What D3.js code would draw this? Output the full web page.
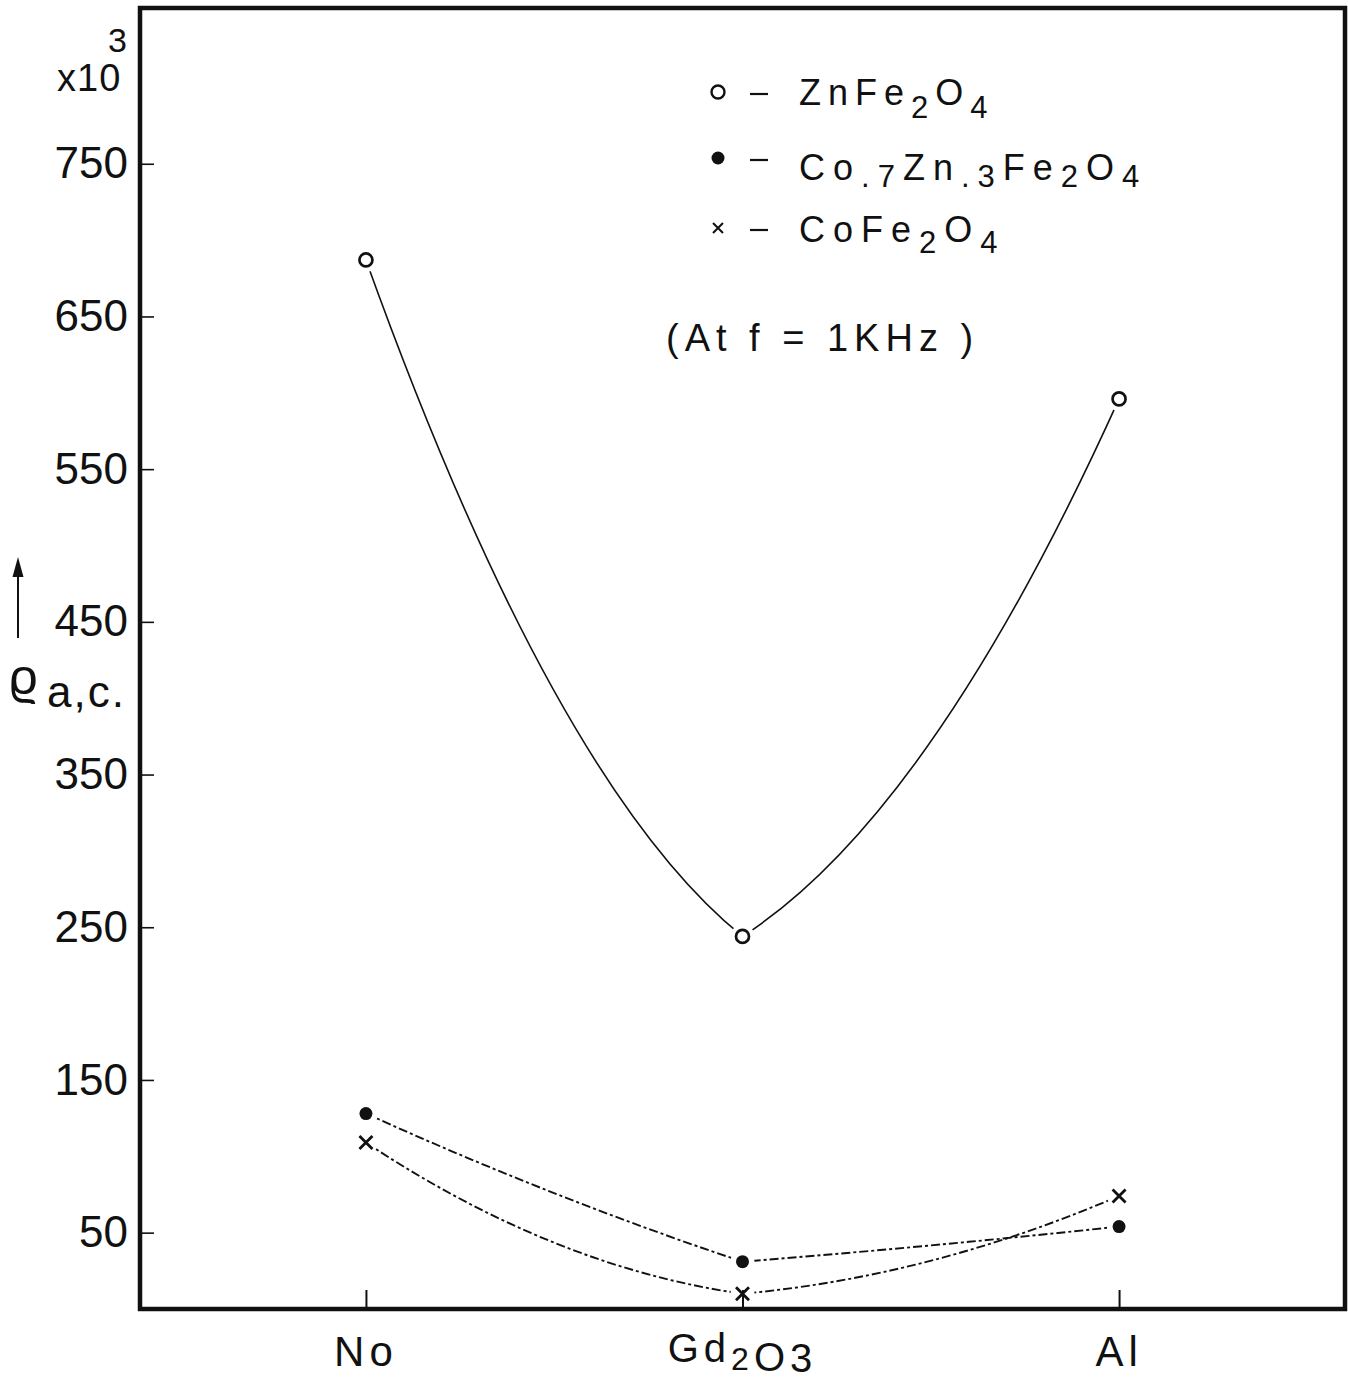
<!DOCTYPE html>
<html>
<head>
<meta charset="utf-8">
<script src="https://cdn.jsdelivr.net/npm/d3@7"></script>
<style>
  body { margin: 0; background: #fff; }
  svg text { font-family: "Liberation Sans", Arial, sans-serif; fill: #111; }
</style>
</head>
<body>
<svg id="graph" width="1348" height="1382"></svg>
<script>
// data (rho a.c. in units of 10^3)
const categories = ["No", "Gd2O3", "Al"];
const znFe2O4 = [687, 244, 596];
const co7Zn3Fe2O4 = [128, 31, 54];
const coFe2O4 = [109, 10, 74];
const yTickValues = [50, 150, 250, 350, 450, 550, 650, 750];

const frame = { left: 140, top: 8, right: 1345, bottom: 1309 };

const svg = d3.select("#graph");

const x = d3.scalePoint()
  .domain(categories)
  .range([frame.left, frame.right])
  .padding(0.6);

const y = d3.scaleLinear()
  .domain([0, 852])
  .range([frame.bottom, frame.top]);

// hand drawn look: each segment is a parabola-like cubic, with a kink at inner points
// f = share of the chord slope kept at an inner point
const curveHand = (f) => (context) => {
  let pts = [];
  return {
    areaStart() {},
    areaEnd() {},
    lineStart() { pts = []; },
    point(px, py) { pts.push([+px, +py]); },
    lineEnd() {
      const n = pts.length;
      if (!n) return;
      context.moveTo(pts[0][0], pts[0][1]);
      if (n === 1) return;
      const slopes = [];
      for (let i = 0; i < n - 1; i++) {
        slopes.push((pts[i + 1][1] - pts[i][1]) / (pts[i + 1][0] - pts[i][0]));
      }
      for (let i = 0; i < n - 1; i++) {
        const s = slopes[i];
        let a = i > 0 ? f * s : null;
        let b = i < n - 2 ? f * s : null;
        if (a === null && b === null) { a = s; b = s; }
        else if (a === null) a = 2 * s - b;
        else if (b === null) b = 2 * s - a;
        const [x0, y0] = pts[i];
        const [x1, y1] = pts[i + 1];
        const h = (x1 - x0) / 3;
        context.bezierCurveTo(x0 + h, y0 + a * h, x1 - h, y1 - b * h, x1, y1);
      }
    },
  };
};

const series = [
  { name: "ZnFe2O4", values: znFe2O4, marker: "open", curve: curveHand(0.45), width: 1.6, dash: null },
  { name: "Co.7Zn.3Fe2O4", values: co7Zn3Fe2O4, marker: "dot", curve: curveHand(0.85), width: 1.9, dash: "9,3,3,3" },
  { name: "CoFe2O4", values: coFe2O4, marker: "cross", curve: curveHand(0.35), width: 1.9, dash: "9,3,3,3" },
];

// lines
series.forEach((s) => {
  const line = d3.line()
    .x((d, i) => x(categories[i]))
    .y((d) => y(d))
    .curve(s.curve);
  svg.append("path")
    .datum(s.values)
    .attr("d", line)
    .attr("fill", "none")
    .attr("stroke", "#111")
    .attr("stroke-width", s.width)
    .attr("stroke-dasharray", s.dash);
});

// white halos so the lines stop short of the markers
series.forEach((s) => {
  svg.append("g")
    .selectAll("circle")
    .data(s.values)
    .enter()
    .append("circle")
    .attr("cx", (d, i) => x(categories[i]))
    .attr("cy", (d) => y(d))
    .attr("r", 12)
    .attr("fill", "#fff");
});

const drawMarker = (g, type, cx, cy, size) => {
  if (type === "open") {
    g.append("circle").attr("cx", cx).attr("cy", cy).attr("r", size)
      .attr("fill", "#fff").attr("stroke", "#111").attr("stroke-width", 2.7);
  } else if (type === "dot") {
    g.append("circle").attr("cx", cx).attr("cy", cy).attr("r", size)
      .attr("fill", "#111");
  } else {
    const h = size;
    g.append("path")
      .attr("d", `M${cx - h},${cy - h}L${cx + h},${cy + h}M${cx + h},${cy - h}L${cx - h},${cy + h}`)
      .attr("stroke", "#111").attr("stroke-width", 2.8).attr("fill", "none");
  }
};

series.forEach((s) => {
  const g = svg.append("g").attr("class", "markers");
  s.values.forEach((v, i) => drawMarker(g, s.marker, x(categories[i]), y(v), 6.5));
});

// axes: ticks pointing inward
const yAxis = svg.append("g")
  .attr("transform", `translate(${frame.left},0)`)
  .call(d3.axisLeft(y).tickValues(yTickValues).tickSize(-14).tickPadding(12).tickFormat(d3.format("d")));
yAxis.select(".domain").remove();
yAxis.selectAll("line").attr("stroke", "#111").attr("stroke-width", 1.6);
yAxis.selectAll("text")
  .attr("font-size", 44)
  .attr("font-family", "Liberation Sans, Arial, sans-serif")
  .attr("fill", "#111");

const xAxis = svg.append("g")
  .attr("transform", `translate(0,${frame.bottom})`)
  .call(d3.axisBottom(x).tickSize(-19).tickFormat(""));
xAxis.select(".domain").remove();
xAxis.selectAll("line").attr("stroke", "#111").attr("stroke-width", 2);

// frame
svg.append("rect")
  .attr("x", frame.left)
  .attr("y", frame.top)
  .attr("width", frame.right - frame.left)
  .attr("height", frame.bottom - frame.top)
  .attr("fill", "none")
  .attr("stroke", "#111")
  .attr("stroke-width", 4.5);

// category labels (with subscripts): [text, baseline, size]
const catParts = {
  "No": [["No", 1366, 42]],
  "Gd2O3": [["Gd", 1362, 40], ["2", 1370, 32], ["O", 1371, 40], ["3", 1372, 40]],
  "Al": [["Al", 1366, 42]],
};
categories.forEach((c) => {
  const t = svg.append("text")
    .attr("x", x(c))
    .attr("y", catParts[c][0][1])
    .attr("text-anchor", "middle")
    .attr("letter-spacing", 5);
  let prev = catParts[c][0][1];
  catParts[c].forEach(([txt, base, fs]) => {
    t.append("tspan").attr("dy", base - prev).attr("font-size", fs).text(txt);
    prev = base;
  });
});

// exponent label
svg.append("text").attr("x", 57).attr("y", 91).attr("font-size", 38).attr("letter-spacing", 1).text("x10");
svg.append("text").attr("x", 108).attr("y", 52).attr("font-size", 34).text("3");

// y label: arrow + rho a.c.
svg.append("line")
  .attr("x1", 18).attr("y1", 638).attr("x2", 18).attr("y2", 572)
  .attr("stroke", "#111").attr("stroke-width", 2);
svg.append("path")
  .attr("d", "M18,557L23.5,577L12.5,577Z")
  .attr("fill", "#111");
svg.append("text").attr("x", 9).attr("y", 694)
  .attr("font-family", "DejaVu Sans, sans-serif").attr("font-size", 50).text("ϱ");
svg.append("text").attr("x", 47).attr("y", 707).attr("font-size", 44).attr("letter-spacing", 2).text("a,c.");

// legend
const legendRows = [
  { marker: "open", y: 92, base: 105, sub: 13, parts: [["Zn", 0], ["Fe", 0], ["2", 1], ["O", 0], ["4", 1]] },
  { marker: "dot", y: 158, base: 180, sub: 7, parts: [["Co", 0], [".7", 1], ["Zn", 0], [".3", 1], ["Fe", 0], ["2", 1], ["O", 0], ["4", 1]] },
  { marker: "cross", y: 228, base: 242, sub: 11, parts: [["Co", 0], ["Fe", 0], ["2", 1], ["O", 0], ["4", 1]] },
];
const legend = svg.append("g").attr("class", "legend");
legendRows.forEach((r) => {
  if (r.marker === "open") {
    legend.append("circle").attr("cx", 718).attr("cy", r.y).attr("r", 6.5)
      .attr("fill", "none").attr("stroke", "#111").attr("stroke-width", 2.4);
  } else if (r.marker === "dot") {
    drawMarker(legend, "dot", 718, r.y, 6.5);
  } else {
    legend.append("path")
      .attr("d", `M713,${r.y - 5}L723,${r.y + 5}M723,${r.y - 5}L713,${r.y + 5}`)
      .attr("stroke", "#111").attr("stroke-width", 2);
  }
  legend.append("line")
    .attr("x1", 750).attr("x2", 768).attr("y1", r.y + 2).attr("y2", r.y + 2)
    .attr("stroke", "#111").attr("stroke-width", 2.2);
  const t = legend.append("text")
    .attr("x", 799).attr("y", r.base)
    .attr("font-size", 36)
    .attr("letter-spacing", r.marker === "open" ? 7 : 8);
  let shifted = 0;
  r.parts.forEach(([txt, isSub]) => {
    const target = isSub ? r.sub : 0;
    t.append("tspan")
      .attr("dy", target - shifted)
      .attr("font-size", isSub ? 31 : 36)
      .text(txt);
    shifted = target;
  });
});

svg.append("text")
  .attr("x", 666).attr("y", 351)
  .attr("font-size", 38)
  .attr("letter-spacing", 6)
  .attr("xml:space", "preserve")
  .text("(At f = 1KHz )");
</script>
</body>
</html>
